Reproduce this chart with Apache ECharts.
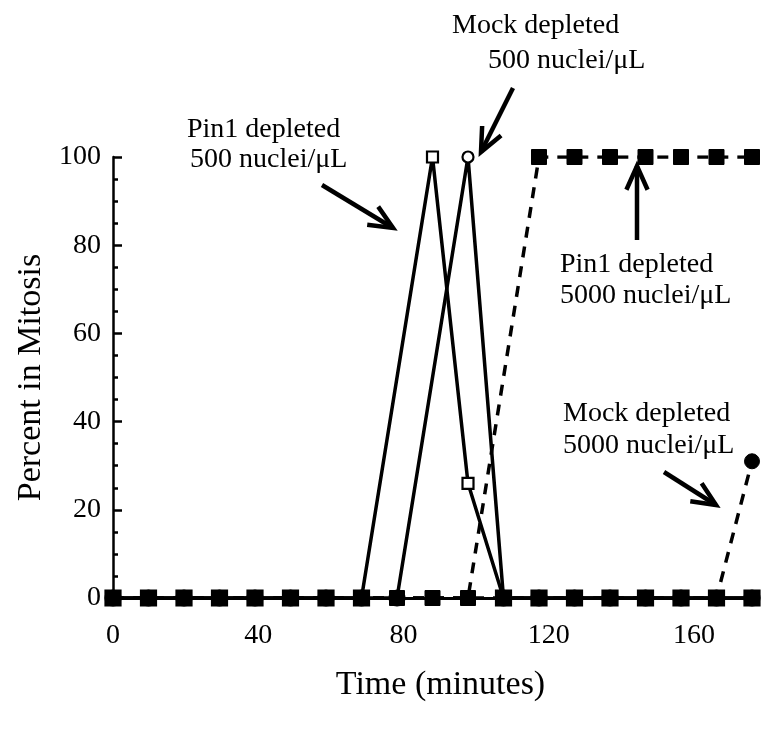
<!DOCTYPE html>
<html><head><meta charset="utf-8">
<script src="https://cdn.jsdelivr.net/npm/echarts@6/dist/echarts.min.js"></script>
<style>html,body{margin:0;padding:0;background:#fff}#c{width:776px;height:729px}</style>
</head><body><div id="c"></div>
<script>
// ---- data (time in minutes, percent in mitosis) ----
const pin1_500_time  = [0,10,20,30,40,50,60,70,90,100,110,120,130,140,150,160,170,180];
const pin1_500_pct   = [0,0,0,0,0,0,0,0,100,26,0,0,0,0,0,0,0,0];
const mock_500_time  = [0,10,20,30,40,50,60,70,80,100,110,120,130,140,150,160,170,180];
const mock_500_pct   = [0,0,0,0,0,0,0,0,0,100,0,0,0,0,0,0,0,0];
const pin1_5000_time = [0,10,20,30,40,50,60,70,80,90,100,120,130,140,150,160,170,180];
const pin1_5000_pct  = [0,0,0,0,0,0,0,0,0,0,0,100,100,100,100,100,100,100];
const mock_5000_time = [0,10,20,30,40,50,60,70,80,90,100,110,120,130,140,150,160,170,180];
const mock_5000_pct  = [0,0,0,0,0,0,0,0,0,0,0,0,0,0,0,0,0,0,31];
const xTicks = [0,40,80,120,160];
const yTicks = [0,20,40,60,80,100];

const FONT = '"Liberation Serif", "DejaVu Serif", serif';
const pairs = (t, v) => t.map((x, i) => [x, v[i]]);

const chart = echarts.init(document.getElementById('c'), null, {renderer: 'canvas'});

function arrow(x1, y1, x2, y2) {
  const a = Math.atan2(y2 - y1, x2 - x1);
  const L = 26, w = 0.42;
  const p1 = [x2 - L * Math.cos(a - w), y2 - L * Math.sin(a - w)];
  const p2 = [x2 - L * Math.cos(a + w), y2 - L * Math.sin(a + w)];
  return [
    {type: 'line', shape: {x1, y1, x2, y2}, style: {stroke: '#000', lineWidth: 4.5}, z: 100},
    {type: 'polyline', shape: {points: [p1, [x2, y2], p2]}, style: {stroke: '#000', lineWidth: 4.5, fill: null, lineJoin: 'miter'}, z: 100}
  ];
}
function label(text, x, y) {
  return {type: 'text', x, y, z: 100, style: {text, font: '28px ' + FONT, fill: '#000', textAlign: 'left', textVerticalAlign: 'middle'}};
}

const base = {type: 'line', animation: false, xAxisIndex: 0, lineStyle: {color: '#000', width: 3.5}};
const openFill = p => (p.value[1] === 0 ? '#000' : '#fff');
const openSize = v => (v[1] === 0 ? 15 : 11);

chart.setOption({
  animation: false,
  backgroundColor: '#fff',
  grid: {left: 113, right: 24, top: 157, bottom: 131, containLabel: false},
  xAxis: [{
    type: 'value', min: 0, max: 180, interval: 10,
    name: 'Time (minutes)', nameLocation: 'middle', nameGap: 70,
    nameTextStyle: {fontFamily: FONT, fontSize: 34, color: '#000', padding: [0, 0, 0, 16]},
    axisLine: {show: true, onZero: false, lineStyle: {color: '#000', width: 3}},
    axisTick: {show: false},
    splitLine: {show: false},
    axisLabel: {show: false}
  }, {
    // tick-label scale as printed on the original figure
    type: 'value', min: 0, max: 176, interval: 40, position: 'bottom',
    axisLine: {show: false}, axisTick: {show: false}, splitLine: {show: false},
    axisLabel: {fontFamily: FONT, fontSize: 28, color: '#000', margin: 24, showMaxLabel: false,
      formatter: v => xTicks.includes(v) ? String(v) : ''}
  }],
  yAxis: {
    type: 'value', min: 0, max: 100, interval: 20,
    name: 'Percent in Mitosis', nameLocation: 'middle', nameGap: 64,
    nameTextStyle: {fontFamily: FONT, fontSize: 34, color: '#000'},
    axisLine: {show: true, lineStyle: {color: '#000', width: 2.5}},
    axisTick: {show: true, inside: true, length: 9, lineStyle: {color: '#000', width: 2.5}},
    minorTick: {show: true, splitNumber: 4, length: 5, lineStyle: {color: '#000', width: 2.5}},
    splitLine: {show: false},
    axisLabel: {fontFamily: FONT, fontSize: 28, color: '#000', margin: 12,
      formatter: v => yTicks.includes(v) ? String(v) : ''}
  },
  series: [
    Object.assign({}, base, {name: 'Mock depleted 500', data: pairs(mock_500_time, mock_500_pct),
      symbol: 'circle', symbolSize: openSize, z: 2,
      itemStyle: {color: openFill, borderColor: '#000', borderWidth: 2.2}}),
    Object.assign({}, base, {name: 'Mock depleted 5000', data: pairs(mock_5000_time, mock_5000_pct),
      symbol: 'circle', symbolSize: 15, z: 3,
      itemStyle: {color: '#000', borderColor: '#000'},
      lineStyle: {color: '#000', width: 3.5, type: [11, 9]}}),
    Object.assign({}, base, {name: 'Pin1 depleted 500', data: pairs(pin1_500_time, pin1_500_pct),
      symbol: 'rect', symbolSize: openSize, z: 4,
      itemStyle: {color: openFill, borderColor: '#000', borderWidth: 2.2}}),
    Object.assign({}, base, {name: 'Pin1 depleted 5000', data: pairs(pin1_5000_time, pin1_5000_pct),
      symbol: 'rect', symbolSize: 15, z: 5,
      itemStyle: {color: '#000', borderColor: '#000'},
      lineStyle: {color: '#000', width: 3.5, type: [11, 9]}})
  ],
  graphic: [
    label('Mock depleted', 452, 26),
    label('500 nuclei/μL', 488, 61),
    label('Pin1 depleted', 187, 130),
    label('500 nuclei/μL', 190, 160),
    label('Pin1 depleted', 560, 265),
    label('5000 nuclei/μL', 560, 296),
    label('Mock depleted', 563, 414),
    label('5000 nuclei/μL', 563, 446),
    ...arrow(513, 88, 481, 152),
    ...arrow(322, 185, 393, 228),
    ...arrow(637, 240, 637, 166),
    ...arrow(664, 472, 716, 505)
  ]
});
</script></body></html>
